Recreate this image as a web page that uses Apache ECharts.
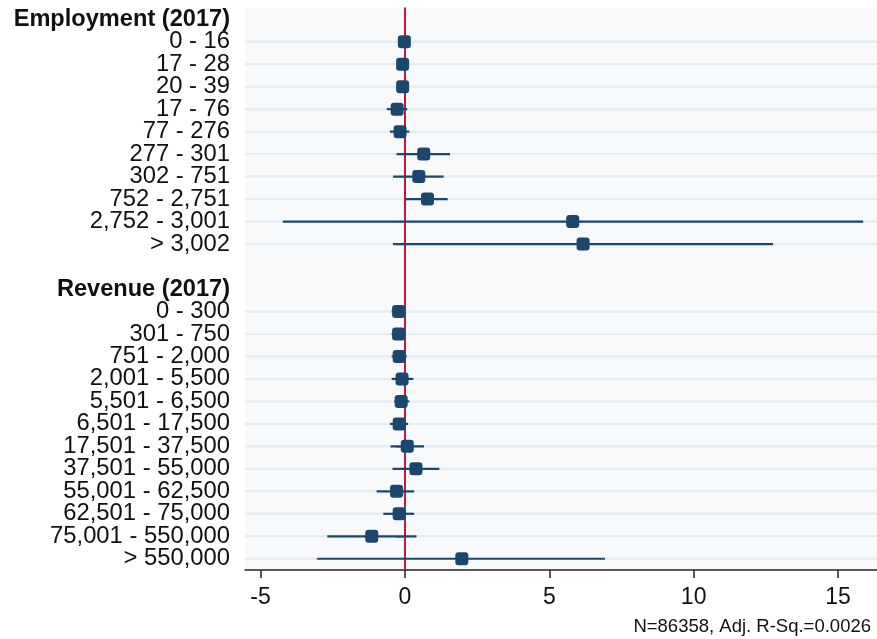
<!DOCTYPE html>
<html>
<head>
<meta charset="utf-8">
<title>Coefficient plot</title>
<script src="https://cdn.jsdelivr.net/npm/echarts@6/dist/echarts.min.js"></script>
<style>
  html, body { margin: 0; padding: 0; background: #ffffff; }
  #chart { width: 877px; height: 639px; }
</style>
</head>
<body>
<div id="chart"></div>
<script>
// Row labels, top to bottom. Headers are group titles; '' is a spacer row.
const rowLabels = [
  'Employment (2017)',
  '0 - 16', '17 - 28', '20 - 39', '17 - 76', '77 - 276', '277 - 301',
  '302 - 751', '752 - 2,751', '2,752 - 3,001', '> 3,002',
  '',
  'Revenue (2017)',
  '0 - 300', '301 - 750', '751 - 2,000', '2,001 - 5,500', '5,501 - 6,500',
  '6,501 - 17,500', '17,501 - 37,500', '37,501 - 55,000', '55,001 - 62,500',
  '62,501 - 75,000', '75,001 - 550,000', '> 550,000'
];
const headerRows = ['Employment (2017)', 'Revenue (2017)'];

// Point estimates and confidence bounds, one entry per data row
const employmentCoef = [-0.02, -0.08, -0.08, -0.27, -0.17, 0.65, 0.48, 0.78, 5.81, 6.17];
const employmentLow  = [-0.02, -0.08, -0.08, -0.63, -0.52, -0.29, -0.41, 0.03, -4.23, -0.41];
const employmentHigh = [-0.02, -0.08, -0.08, 0.08, 0.15, 1.56, 1.34, 1.48, 15.87, 12.75];

const revenueCoef = [-0.22, -0.22, -0.20, -0.10, -0.13, -0.20, 0.08, 0.38, -0.29, -0.20, -1.15, 1.97];
const revenueLow  = [-0.46, -0.46, -0.46, -0.46, -0.37, -0.52, -0.50, -0.43, -0.98, -0.75, -2.69, -3.04];
const revenueHigh = [0.00, 0.00, 0.06, 0.29, 0.15, 0.11, 0.66, 1.19, 0.32, 0.32, 0.40, 6.93];

const xTicks = [-5, 0, 5, 10, 15];
const noteText = 'N=86358, Adj. R-Sq.=0.0026';

const NAVY = '#1a476f';
const FONT = '"Liberation Sans", Arial, sans-serif';

// Map each estimate onto its row index on the category axis
const empStart = rowLabels.indexOf('0 - 16');
const revStart = rowLabels.indexOf('0 - 300');
const points = [];
const intervals = [];
employmentCoef.forEach((c, i) => {
  points.push([c, empStart + i]);
  intervals.push([employmentLow[i], employmentHigh[i], empStart + i]);
});
revenueCoef.forEach((c, i) => {
  points.push([c, revStart + i]);
  intervals.push([revenueLow[i], revenueHigh[i], revStart + i]);
});
const dataRows = intervals.map(d => d[2]);
const isDataRow = i => dataRows.indexOf(i) >= 0;

const chart = echarts.init(document.getElementById('chart'), null, { renderer: 'canvas' });

chart.setOption({
  animation: false,
  backgroundColor: '#ffffff',
  grid: {
    left: 245, right: 0, top: 8, bottom: 69,
    show: true, backgroundColor: '#f8f9fa', borderWidth: 0
  },
  xAxis: {
    type: 'value',
    min: -5.54,
    max: 16.35,
    axisLine: { show: true, onZero: false, lineStyle: { color: '#222', width: 1.5 } },
    axisTick: { show: true, length: 8, customValues: xTicks, lineStyle: { color: '#222', width: 1.5 } },
    axisLabel: {
      customValues: xTicks, margin: 16,
      color: '#111', fontFamily: FONT, fontSize: 23
    },
    splitLine: { show: false }
  },
  yAxis: {
    type: 'category',
    inverse: true,
    data: rowLabels,
    axisLine: { show: true, lineStyle: { color: '#222', width: 1.5 } },
    axisTick: {
      show: true, length: 9, alignWithLabel: true,
      interval: (i) => isDataRow(i),
      lineStyle: { color: '#222', width: 1.5 }
    },
    axisLabel: {
      interval: 0, margin: 15,
      color: '#111', fontFamily: FONT, fontSize: 23.8,
      formatter: (v) => headerRows.indexOf(v) >= 0 ? '{h|' + v + '}' : v,
      rich: {
        h: { fontWeight: 'bold', fontSize: 23.6, color: '#111', fontFamily: FONT }
      }
    },
    splitLine: { show: false }
  },
  graphic: [{
    type: 'text',
    right: 6, bottom: 3,
    style: {
      text: noteText, fill: '#111',
      font: '18.5px "Liberation Sans", Arial, sans-serif'
    }
  }],
  series: [
    {
      // light horizontal guide at every data row
      type: 'custom',
      silent: true,
      z: 1,
      data: dataRows.map(r => [r]),
      encode: { y: 0 },
      renderItem: (params, api) => {
        const y = api.coord([0, api.value(0)])[1];
        const cs = params.coordSys;
        return {
          type: 'line',
          shape: { x1: cs.x, y1: y, x2: cs.x + cs.width, y2: y },
          style: { stroke: '#e6edf1', lineWidth: 2.5 }
        };
      }
    },
    {
      // confidence intervals
      type: 'custom',
      silent: true,
      z: 3,
      data: intervals,
      encode: { x: [0, 1], y: 2 },
      renderItem: (params, api) => {
        const a = api.coord([api.value(0), api.value(2)]);
        const b = api.coord([api.value(1), api.value(2)]);
        return {
          type: 'line',
          shape: { x1: a[0], y1: a[1], x2: b[0], y2: b[1] },
          style: { stroke: NAVY, lineWidth: 2.2 }
        };
      }
    },
    {
      type: 'scatter',
      z: 5,
      data: points,
      symbol: 'roundRect',
      symbolSize: 13,
      itemStyle: { color: NAVY, opacity: 1 },
      markLine: {
        silent: true,
        symbol: 'none',
        label: { show: false },
        lineStyle: { color: '#c8153c', width: 2, type: 'solid', opacity: 1 },
        data: [{ xAxis: 0 }],
        z: 2
      }
    }
  ]
});
</script>
</body>
</html>
